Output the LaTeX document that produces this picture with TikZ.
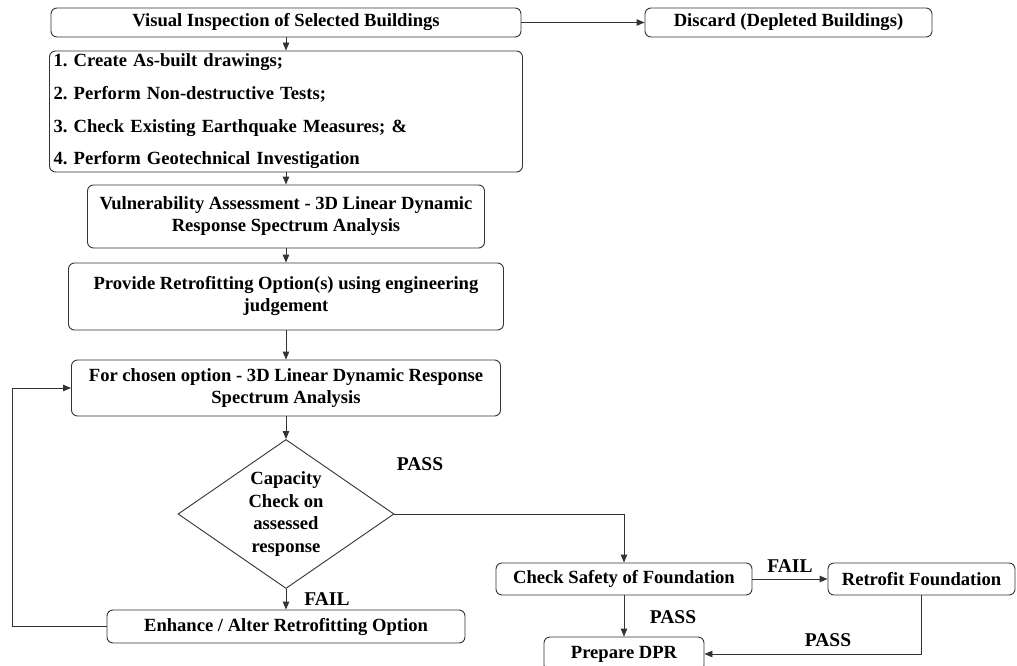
\documentclass[tikz,border=0pt]{standalone}
\usepackage{fontspec}
\setmainfont{Liberation Serif}
\frenchspacing
\usetikzlibrary{arrows.meta, shapes.geometric}
\tikzset{
  box/.style={
    rectangle, rounded corners=6pt, draw=black!80, line width=0.9pt,
    inner sep=0pt, align=center, font=\bfseries\fontsize{18.6}{22}\selectfont
  },
  decision/.style={
    diamond, aspect=1.45, draw=black!80, line width=0.9pt, inner sep=0pt,
    minimum width=216pt, minimum height=149pt, align=center,
    font=\bfseries\fontsize{18.6}{22.5}\selectfont
  },
  tag/.style={font=\bfseries\fontsize{19.5}{20}\selectfont},
  arrow/.style={-{Triangle[length=8pt,width=6.5pt]}, line width=0.9pt, draw=black!80}
}

\begin{document}
\begin{tikzpicture}[x=1pt, y=-1pt]
\useasboundingbox (0,0) rectangle (1017,666);
\node[box, minimum width=470pt, minimum height=29pt] (visual) at (286,22.5) {Visual Inspection of Selected Buildings};
\node[box, minimum width=287pt, minimum height=29pt] (discard) at (788.5,22.5) {Discard (Depleted Buildings)};
\node[box, minimum width=473pt, minimum height=121pt, text width=465pt, align=left,
      font=\bfseries\fontsize{18.6}{32.7}\selectfont] (tasks) at (286,111.5)
  {1. Create As-built drawings;\\2. Perform Non-destructive Tests;\\3. Check Existing Earthquake Measures; \&\\4. Perform Geotechnical Investigation};
\node[box, minimum width=397pt, minimum height=63pt] (vuln) at (286,216.5) {Vulnerability Assessment - 3D Linear Dynamic\\Response Spectrum Analysis};
\node[box, minimum width=435pt, minimum height=67pt] (option) at (286,296.5) {Provide Retrofitting Option(s) using engineering\\judgement};
\node[box, minimum width=429pt, minimum height=56pt] (chosen) at (286,388) {For chosen option - 3D Linear Dynamic Response\\Spectrum Analysis};
\node[decision] (capacity) at (286,514) {Capacity\\Check on\\assessed\\response};
\node[box, minimum width=358pt, minimum height=33pt] (enhance) at (286,626.5) {Enhance / Alter Retrofitting Option};
\node[box, minimum width=256pt, minimum height=32pt] (safety) at (624,579) {Check Safety of Foundation};
\node[box, minimum width=187pt, minimum height=32pt] (retrofit) at (921.5,579) {Retrofit Foundation};
\node[box, minimum width=160pt, minimum height=34pt] (dpr) at (624,654) {Prepare DPR};
\node[tag] (pass1) at (420,464) {PASS};
\node[tag] (fail1) at (327,599) {FAIL};
\node[tag] (fail2) at (790,566) {FAIL};
\node[tag] (pass2) at (673,617) {PASS};
\node[tag] (pass3) at (828,640) {PASS};
\draw[arrow] (visual) -- (discard);
\draw[arrow] (visual) -- (tasks);
\draw[arrow] (tasks) -- (vuln);
\draw[arrow] (vuln) -- (option);
\draw[arrow] (option) -- (chosen);
\draw[arrow] (chosen) -- (capacity);
\draw[arrow] (capacity) -- (enhance);
\draw[arrow] (enhance.west) -- ++(-94,0) |- (chosen.west);
\draw[arrow] (capacity.east) -| (safety.north);
\draw[arrow] (safety) -- (retrofit);
\draw[arrow] (safety) -- (dpr);
\draw[arrow] (retrofit.south) |- (dpr.east);
\end{tikzpicture}
\end{document}
